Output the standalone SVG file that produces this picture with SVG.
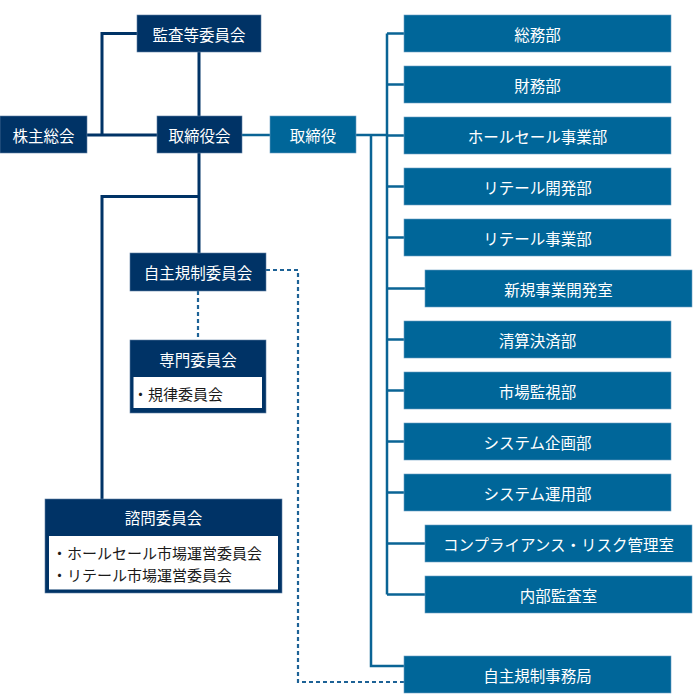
<svg xmlns="http://www.w3.org/2000/svg" width="700" height="700" viewBox="0 0 700 700">
<style>
.dk{fill:#003366;stroke:#5f7fa3;stroke-width:0.6}
.bl{fill:#006699;stroke:#6b9fc2;stroke-width:0.6}
.wb{fill:#ffffff}
.t{font-family:"Noto Sans CJK JP","Noto Sans",sans-serif;font-size:15.5px;fill:#ffffff;text-anchor:middle;dominant-baseline:central}
.li{font-family:"Noto Sans CJK JP","Noto Sans",sans-serif;font-size:15px;fill:#1a1a1a;dominant-baseline:central}
.ld{fill:none;stroke:#003366;stroke-width:3}
.lb{fill:none;stroke:#0a6495;stroke-width:2.5}
.dot{fill:none;stroke:#1d6296;stroke-width:2.2;stroke-dasharray:4 3}
</style>
<rect width="700" height="700" fill="#ffffff"/>
<g id="connectors">
<path class="ld" d="M137,33.5 H102 V135 M87,135 H157 M199,52 V116 M199,153 V253 M199,196.5 H102 V499"/>
<path class="lb" d="M242,135 H270 M356,135 H387 M387,33.5 V594.5 M387,33.5 H404 M387,84.5 H404 M387,135.5 H404 M387,186.5 H404 M387,237.5 H404 M387,288.5 H425 M387,339.5 H404 M387,390.5 H404 M387,441.5 H404 M387,492.5 H404 M387,543.5 H425 M387,594.5 H425 M371,135 V666 H404"/>
<path class="dot" d="M198,291 V340"/>
<path class="dot" d="M266,270 H298 V682 H404"/>
</g>
<g id="kansa"><rect class="dk" x="137" y="15" width="124" height="37"/><text class="t" x="199" y="33.5">監査等委員会</text></g>
<g id="kabunushi"><rect class="dk" x="0" y="116" width="87" height="37"/><text class="t" x="43.5" y="134.5">株主総会</text></g>
<g id="torishimariyakukai"><rect class="dk" x="157" y="116" width="85" height="37"/><text class="t" x="199.5" y="134.5">取締役会</text></g>
<g id="torishimariyaku"><rect class="bl" x="270" y="116" width="86" height="37"/><text class="t" x="313" y="134.5">取締役</text></g>
<g id="jishukisei-iinkai"><rect class="dk" x="130" y="253" width="136" height="38"/><text class="t" x="198" y="271.5">自主規制委員会</text></g>
<g id="senmon"><rect class="dk" x="130" y="340" width="136" height="73"/><rect class="wb" x="133.5" y="377" width="128.5" height="31"/><text class="t" x="198" y="358.5">専門委員会</text><text class="li" x="133" y="393">・規律委員会</text></g>
<g id="shimon"><rect class="dk" x="45" y="499" width="237" height="94"/><rect class="wb" x="49" y="536" width="229" height="53.5"/><text class="t" x="163.5" y="516.5">諮問委員会</text><text class="li" x="52" y="552.5">・ホールセール市場運営委員会</text><text class="li" x="52" y="574.5">・リテール市場運営委員会</text></g>
<g id="somu"><rect class="bl" x="404" y="15" width="267" height="37"/><text class="t" x="537.5" y="33.5">総務部</text></g>
<g id="zaimu"><rect class="bl" x="404" y="66" width="267" height="37"/><text class="t" x="537.5" y="84.5">財務部</text></g>
<g id="wholesale"><rect class="bl" x="404" y="117" width="267" height="37"/><text class="t" x="537.5" y="135.5">ホールセール事業部</text></g>
<g id="retail-kaihatsu"><rect class="bl" x="404" y="168" width="267" height="37"/><text class="t" x="537.5" y="186.5">リテール開発部</text></g>
<g id="retail-jigyo"><rect class="bl" x="404" y="219" width="267" height="37"/><text class="t" x="537.5" y="237.5">リテール事業部</text></g>
<g id="shinki"><rect class="bl" x="425" y="270" width="267" height="37"/><text class="t" x="558.5" y="288.5">新規事業開発室</text></g>
<g id="seisan"><rect class="bl" x="404" y="321" width="267" height="37"/><text class="t" x="537.5" y="339.5">清算決済部</text></g>
<g id="shijo"><rect class="bl" x="404" y="372" width="267" height="37"/><text class="t" x="537.5" y="390.5">市場監視部</text></g>
<g id="system-kikaku"><rect class="bl" x="404" y="423" width="267" height="37"/><text class="t" x="537.5" y="441.5">システム企画部</text></g>
<g id="system-unyo"><rect class="bl" x="404" y="474" width="267" height="37"/><text class="t" x="537.5" y="492.5">システム運用部</text></g>
<g id="compliance"><rect class="bl" x="425" y="525" width="267" height="37"/><text class="t" x="558.5" y="543.5">コンプライアンス・リスク管理室</text></g>
<g id="naibu"><rect class="bl" x="425" y="576" width="267" height="37"/><text class="t" x="558.5" y="594.5">内部監査室</text></g>
<g id="jimukyoku"><rect class="bl" x="404" y="656" width="267" height="37"/><text class="t" x="537.5" y="674.5">自主規制事務局</text></g>
</svg>
